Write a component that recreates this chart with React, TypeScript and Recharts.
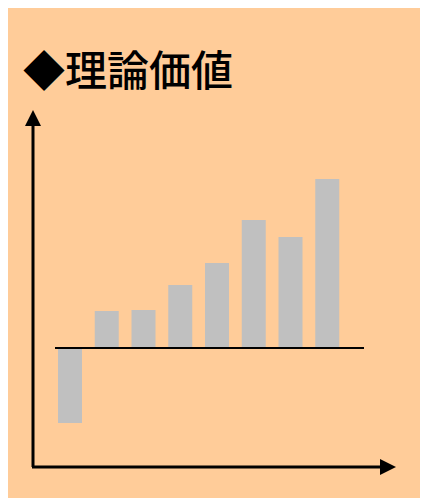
import { Bar, BarChart, ReferenceLine, XAxis, YAxis } from "recharts";

// 理論価値 (arbitrary units)
const categories = ["1", "2", "3", "4", "5", "6", "7", "8"];
const values = [-7.5, 3.7, 3.8, 6.3, 8.5, 12.8, 11.1, 16.9];
const title = "◆理論価値";

const data = categories.map((name, i) => ({ name, value: values[i] }));

const W = 420;
const H = 490;

// zero line starts a little to the right of the plot edge
const ZeroLine = (props: any) => (
    <line
        x1={props.x1 + 3}
        y1={props.y1}
        x2={props.x2}
        y2={props.y2}
        stroke="#000"
        strokeWidth={1.8}
    />
);

export default function App() {
    return (
        <div
            style={{
                position: "relative",
                width: W,
                height: H,
                background: "#FFCC99",
            }}
        >
            <BarChart
                width={W}
                height={H}
                data={data}
                margin={{ top: 140, right: 64, bottom: 50, left: 44 }}
                barSize={24}
            >
                <XAxis dataKey="name" hide padding={{ left: 0, right: 18 }} />
                <YAxis hide domain={[-10, 20]} />
                <ReferenceLine y={0} shape={ZeroLine} />
                <Bar
                    dataKey="value"
                    fill="#C0C0C0"
                    isAnimationActive={false}
                />
            </BarChart>
            {/* hand-drawn style axes with arrowheads, plus the title */}
            <svg
                width={W}
                height={H}
                style={{ position: "absolute", left: 0, top: 0, pointerEvents: "none" }}
            >
                <text
                    x={15}
                    y={78}
                    fontSize={42}
                    fontWeight={500}
                    fontFamily="'Noto Sans CJK JP', sans-serif"
                    fill="#000"
                >
                    {title}
                </text>
                <line x1={25} y1={459} x2={25} y2={116} stroke="#000" strokeWidth={3} />
                <polygon points="25,102 17,118 33,118" fill="#000" />
                <line x1={24} y1={459} x2={373} y2={459} stroke="#000" strokeWidth={3} />
                <polygon points="388,459 372,451 372,467" fill="#000" />
            </svg>
        </div>
    );
}
